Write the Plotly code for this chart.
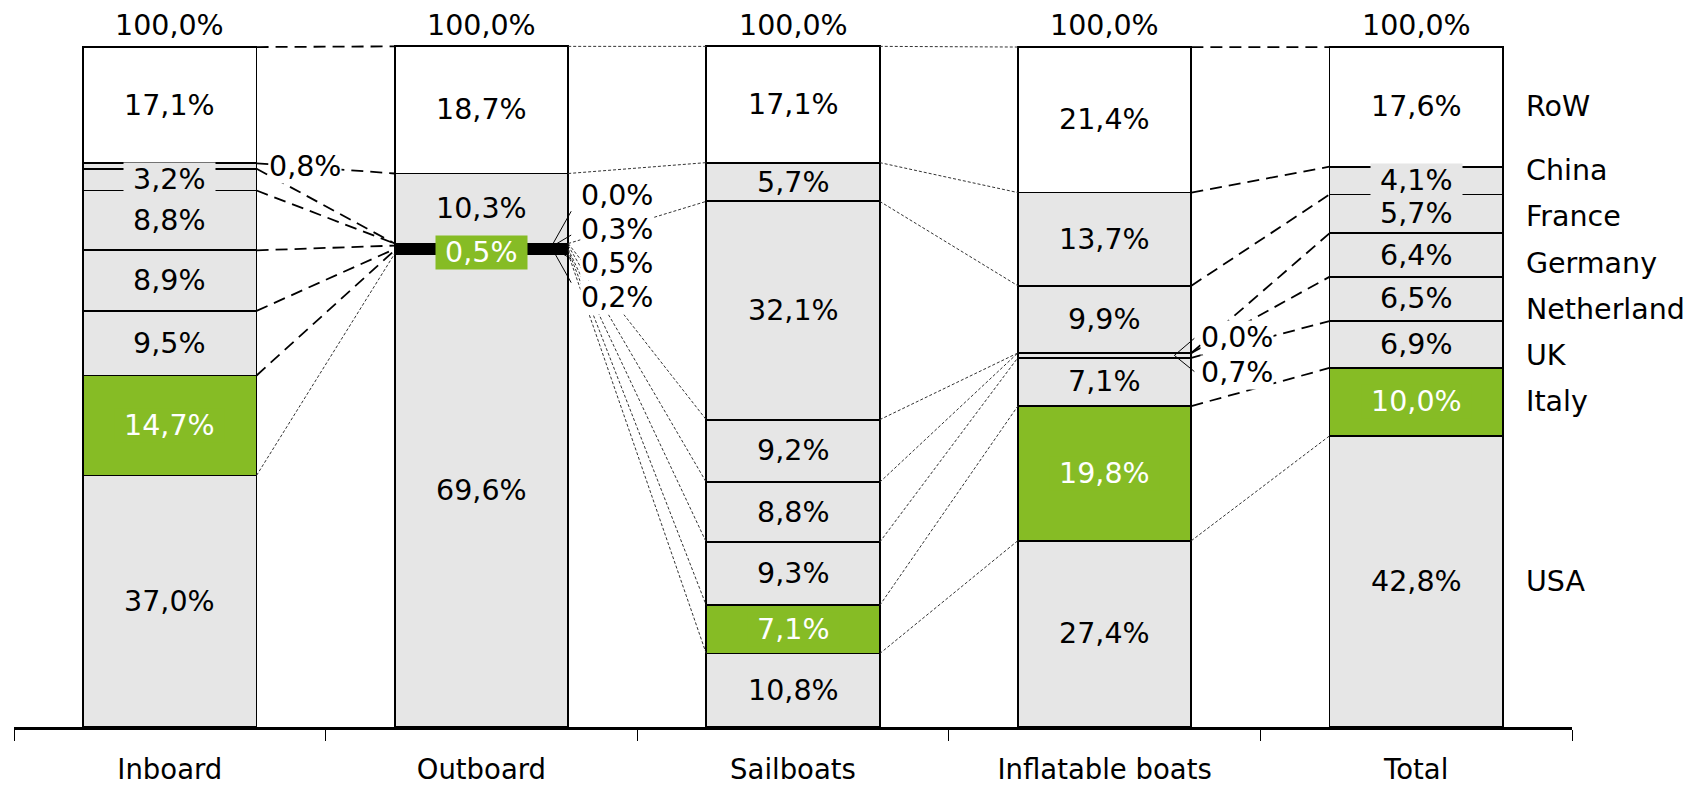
import plotly.graph_objects as go

# ---------------- data ----------------
categories = ["Inboard", "Outboard", "Sailboats", "Inflatable boats", "Total"]
series_names = ["USA", "Italy", "UK", "Netherland", "Germany", "France", "China", "RoW"]  # bottom -> top

usa = [37.0, 69.6, 10.8, 27.4, 42.8]
italy = [14.7, 0.5, 7.1, 19.8, 10.0]
uk = [9.5, 0.2, 9.3, 7.1, 6.9]
netherland = [8.9, 0.5, 8.8, 0.7, 6.5]
germany = [8.8, 0.3, 9.2, 0.0, 6.4]
france = [3.2, 0.0, 32.1, 9.9, 5.7]
china = [0.8, 10.3, 5.7, 13.7, 4.1]
row = [17.1, 18.7, 17.1, 21.4, 17.6]
totals = [100.0, 100.0, 100.0, 100.0, 100.0]

values = [usa, italy, uk, netherland, germany, france, china, row]

# ---------------- styling ----------------
GREY = "#E6E6E6"
GREEN = "#86BC25"
WHITE = "#FFFFFF"
FONT = "DejaVu Sans"
FS = 28.5
BAR_W = 0.557
HALF = BAR_W / 2
NBSP = "\u00a0"
TINY = 0.6   # slivers this thin merge into a solid black band


def color_of(name):
    if name == "Italy":
        return GREEN
    if name == "RoW":
        return WHITE
    return GREY


def fmt(v):
    return f"{v:.1f}".replace(".", ",") + "%"


n = len(categories)
seg = {}
cum = [0.0] * n
for s, vals in enumerate(values):
    for i in range(n):
        seg[(s, i)] = (cum[i], cum[i] + vals[i])
        cum[i] += vals[i]

fig = go.Figure()
for name, vals in zip(series_names, values):
    fills = ["black" if v < TINY else color_of(name) for v in vals]
    fig.add_trace(go.Bar(
        x=categories, y=vals, name=name, width=BAR_W,
        marker=dict(color=fills, line=dict(color="black", width=1.8)),
        cliponaxis=False, hoverinfo="skip",
    ))

# ---------------- series lines ----------------
long_gaps = {0, 3}
for i in range(n - 1):
    for s, name in enumerate(series_names):
        y0 = seg[(s, i)][1]
        y1 = seg[(s, i + 1)][1]
        if i in long_gaps and name != "USA":
            line = dict(color="black", width=1.8, dash="12px,7px")
        else:
            line = dict(color="#333333", width=1, dash="3px,2px")
        fig.add_shape(type="line", xref="x", yref="y",
                      x0=i + HALF, x1=i + 1 - HALF, y0=y0, y1=y1,
                      line=line, layer="above")

annotations = []

# ---------------- outside labels ----------------
outside = {}
outside[(6, 0)] = (sum(seg[(6, 0)]) / 2, 0, 11)
ob_anchor = (seg[(1, 1)][1] + seg[(5, 1)][1]) / 2
for s, off in zip([5, 4, 3, 2], [51, 17, -17, -51]):
    outside[(s, 1)] = (ob_anchor, off, 12)
if_anchor = sum(seg[(3, 3)]) / 2
for s, off in zip([4, 3], [18, -17]):
    outside[(s, 3)] = (if_anchor, off, 9)

leader_groups = [(1, ob_anchor, [51, 17, -17, -51], 0.7),
                 (3, if_anchor, [18, -17], 0.95)]
for i, anchor, offs, k in leader_groups:
    for off in offs:
        fig.add_shape(type="line", xref="x", yref="y",
                      xsizemode="pixel", ysizemode="pixel",
                      xanchor=i + HALF, yanchor=anchor,
                      x0=-17, x1=3, y0=0, y1=off * k,
                      line=dict(color="black", width=1), layer="above")

for (s, i), (ay, off, xs) in outside.items():
    annotations.append(dict(
        x=i + HALF, y=ay, xref="x", yref="y", xanchor="left", yanchor="middle",
        xshift=xs, yshift=off, text=fmt(values[s][i]), showarrow=False,
        bgcolor=WHITE, borderpad=0, font=dict(family=FONT, size=FS, color="black")))

# ---------------- inside labels ----------------
for s, name in enumerate(series_names):
    for i in range(n):
        if (s, i) in outside:
            continue
        b, t = seg[(s, i)]
        annotations.append(dict(
            x=i, y=(b + t) / 2, xref="x", yref="y", xanchor="center", yanchor="middle",
            text=NBSP + fmt(values[s][i]) + NBSP, showarrow=False,
            bgcolor=color_of(name), borderpad=0,
            font=dict(family=FONT, size=FS, color=WHITE if name == "Italy" else "black")))

# ---------------- totals on top ----------------
for i in range(n):
    annotations.append(dict(
        x=i, y=totals[i], xref="x", yref="y", xanchor="center", yanchor="middle",
        yshift=22, text=fmt(totals[i]), showarrow=False,
        font=dict(family=FONT, size=FS, color="black")))

# ---------------- series names on the right ----------------
last = n - 1
italy_c = sum(seg[(1, last)]) / 2
for s, name in enumerate(series_names):
    if name in ("USA", "RoW"):
        y = sum(seg[(s, last)]) / 2
        ysh = 0
    else:
        y = italy_c
        ysh = (s - 1) * 46.3
    annotations.append(dict(
        x=last + HALF, y=y, xref="x", yref="y", xanchor="left", yanchor="middle",
        xshift=21, yshift=ysh, text=name, showarrow=False,
        font=dict(family=FONT, size=FS, color="black")))

fig.update_layout(
    barmode="stack", width=1692, height=787,
    margin=dict(l=6, r=128, t=37, b=68, autoexpand=False),
    plot_bgcolor="white", paper_bgcolor="white", showlegend=False,
    font=dict(family=FONT, size=FS, color="black"),
    annotations=annotations,
)
fig.update_xaxes(type="category", range=[-0.5, 4.5], showline=True, linecolor="black",
                 linewidth=2.5, ticks="outside", tickson="boundaries", ticklen=11,
                 tickwidth=1.2, tickcolor="black", showgrid=False, automargin=False,
                 ticklabelstandoff=16, tickfont=dict(family=FONT, size=27.5, color="black"))
fig.update_yaxes(range=[0, 100.3], visible=False, automargin=False)

fig.write_html("out.html")
